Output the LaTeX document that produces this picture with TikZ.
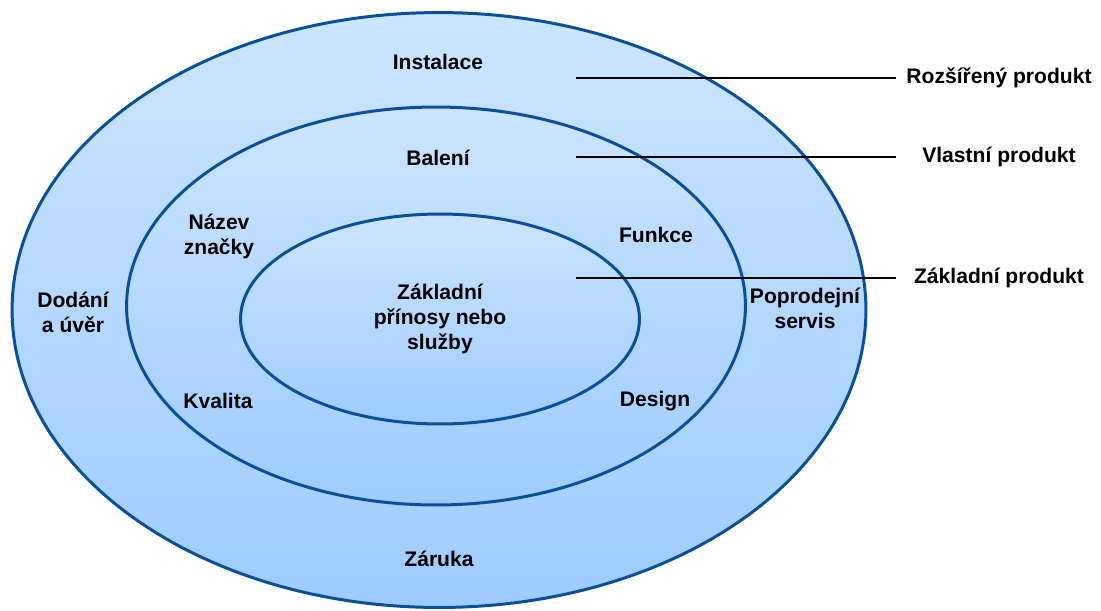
\documentclass[tikz,border=0pt]{standalone}
\usepackage{fontspec}
\setmainfont{Liberation Sans}
\usetikzlibrary{shapes.geometric}

\definecolor{ringline}{HTML}{0A4F9C}
\definecolor{ringtop}{HTML}{CCE5FF}
\definecolor{ringbot}{HTML}{9ECCFF}

\begin{document}
\begin{tikzpicture}[
  x=0.02cm, y=-0.02cm,
  font=\fontsize{12}{14.2}\selectfont\bfseries,
  ring/.style={ellipse, draw=ringline, line width=1.7pt, top color=ringtop,
               bottom color=ringbot, inner sep=0pt, align=center},
  lbl/.style={align=center, inner sep=1pt},
  side/.style={align=center, inner sep=0pt, minimum width=4.12cm},
  lead/.style={draw=black, line width=0.6pt}
]
\useasboundingbox (0,0) rectangle (1101,610);

% ---- three product levels
\node[ring, minimum width=17.08cm, minimum height=11.9cm] (outer) at (439,310) {};
\node[ring, minimum width=12.38cm, minimum height=7.96cm] (mid) at (436,306) {};
\node[ring, minimum width=7.98cm, minimum height=4.2cm] (core) at (440,319)
  {Základní\\přínosy nebo\\služby};

% ---- augmented product
\node[lbl] (inst) at (438,62) {Instalace};
\node[lbl] (dod) at (73,312) {Dodání\\a úvěr};
\node[lbl] (servis) at (805,308) {Poprodejní\\servis};
\node[lbl] (zar) at (439,559) {Záruka};

% ---- actual product
\node[lbl] (bal) at (438,158) {Balení};
\node[lbl] (nazev) at (219,236) {Název\\značky};
\node[lbl] (funk) at (656,235) {Funkce};
\node[lbl] (kval) at (218,401) {Kvalita};
\node[lbl] (design) at (655,401) {Design};

% ---- level names on the right
\node[side] (rozs) at (999,78) {Rozšířený produkt};
\node[side] (vlast) at (999,157) {Vlastní produkt};
\node[side] (zakl) at (999,278) {Základní produkt};

\coordinate (rozsA) at (576,78);
\coordinate (vlastA) at (576,157);
\coordinate (zaklA) at (576,278);

\draw[lead] (rozsA) -- (rozs.west);
\draw[lead] (vlastA) -- (vlast.west);
\draw[lead] (zaklA) -- (zakl.west);
\end{tikzpicture}
\end{document}
